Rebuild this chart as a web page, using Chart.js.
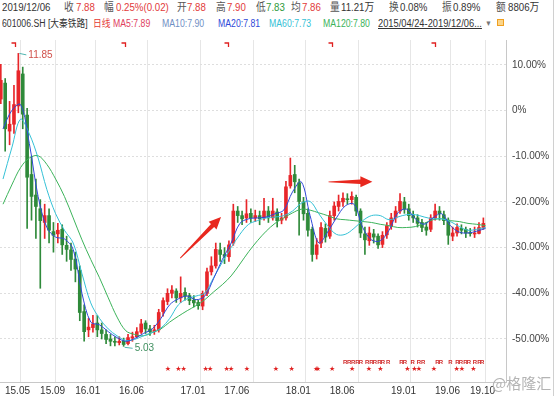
<!DOCTYPE html>
<html>
<head>
<meta charset="utf-8">
<script src="https://cdn.jsdelivr.net/npm/chart.js@4.4.0/dist/chart.umd.min.js"></script>
<style>
  body { margin: 0; background: #fff; }
  #wrap { position: relative; width: 554px; height: 396px; overflow: hidden;
          font-family: "Liberation Sans", Arial, "Noto Sans CJK SC", sans-serif; }
  .h { position: absolute; white-space: nowrap; line-height: 1; transform-origin: 0 0; }
  .r1 { top: 2px; font-size: 11px; transform: scaleX(0.88); }
  .r2 { top: 19px; font-size: 10px; transform: scaleX(0.87); }
  .g { color: #555; }
  .k { color: #333; }
  .red { color: #e23a3a; }
  .grn { color: #2f9a3c; }
  #box { position: absolute; left: 0; top: 28px; width: 554px; height: 368px; }
  #rb { position: absolute; left: 553px; top: 0; width: 1px; height: 396px; background: #d0d0d0; }
  #wm { position: absolute; left: 492px; top: 375px; font-size: 15px; color: #b4b4b4;
        font-family: "Noto Sans CJK SC", sans-serif; line-height: 1; }
  #ico { position: absolute; left: 497px; top: 19px; width: 5px; height: 5px;
         border: 1px solid #f0a020; background: #fbd58a; }
</style>
</head>
<body>
<div id="wrap">
  <span class="h r1 k" style="left:2px">2019/12/06</span>
  <span class="h r1 g" style="left:64px">收</span><span class="h r1 red" style="left:76px">7.88</span>
  <span class="h r1 g" style="left:104px">幅</span><span class="h r1 red" style="left:116px">0.25%(0.02)</span>
  <span class="h r1 g" style="left:177px">开</span><span class="h r1 red" style="left:187px">7.88</span>
  <span class="h r1 g" style="left:216px">高</span><span class="h r1 red" style="left:227px">7.90</span>
  <span class="h r1 g" style="left:256px">低</span><span class="h r1 grn" style="left:266px">7.83</span>
  <span class="h r1 g" style="left:291px">均</span><span class="h r1 red" style="left:302px">7.86</span>
  <span class="h r1 g" style="left:330px">量</span><span class="h r1 k" style="left:341px">11.21万</span>
  <span class="h r1 g" style="left:389px">换</span><span class="h r1 k" style="left:400px">0.08%</span>
  <span class="h r1 g" style="left:442px">振</span><span class="h r1 k" style="left:453px">0.89%</span>
  <span class="h r1 g" style="left:496px">额</span><span class="h r1 k" style="left:508px">8806万</span>

  <span class="h r2 k" style="left:2px">601006.SH [大秦铁路]</span>
  <span class="h r2" style="left:93px;color:#e53935">日线</span>
  <span class="h r2" style="left:113px;color:#e0405e">MA5:7.89</span>
  <span class="h r2" style="left:162px;color:#6f8fc4">MA10:7.90</span>
  <span class="h r2" style="left:218px;color:#2f49d8">MA20:7.81</span>
  <span class="h r2" style="left:269px;color:#35c1d6">MA60:7.73</span>
  <span class="h r2" style="left:323px;color:#3cb35a">MA120:7.80</span>
  <span class="h r2 k" style="left:378px;text-decoration:underline;transform:scaleX(0.93)">2015/04/24-2019/12/06...</span>
  <span class="h r2" style="left:485px;color:#777;font-size:8px;top:20px">▼</span>
  <div id="ico"></div>

  <div id="box"><canvas id="c"></canvas></div>
  <div id="rb"></div>
  <div id="wm">@格隆汇</div>
</div>
<script>
// half-month candles, percent change vs. base price, first candle 2015/04/24
const candleStart = -0.25;
const candleStep = 0.5;

const openP = [
  2.5, 6.0, -4.5, -3.0, 1.0, 8.0, -1.0, -14.0, -18.5, -21.5,
  -24.5, -23.0, -26.5, -27.0, -26.0, -29.5, -30.5, -32.5, -35.0, -44.0,
  -48.0, -47.5, -46.5, -48.0, -49.0, -50.0, -50.5, -50.8, -50.5, -51.0,
  -49.8, -49.5, -48.5, -46.5, -47.8, -48.4, -48.0, -44.0, -41.8, -40.0,
  -39.5, -41.0, -39.8, -40.5, -41.5, -42.0, -42.8, -40.0, -35.3, -34.0,
  -30.5, -31.5, -32.0, -29.0, -22.0, -23.0, -23.5, -22.5, -23.5, -23.0,
  -23.5, -22.0, -23.5, -22.2, -24.0, -23.5, -16.5, -14.0, -15.8, -20.0,
  -22.5, -26.0, -31.5, -29.0, -25.8, -27.5, -23.0, -21.0, -20.0, -19.3,
  -19.5, -19.0, -22.0, -27.0, -28.5, -27.0, -27.5, -29.3, -27.2, -25.3,
  -23.5, -22.0, -20.0, -21.5, -23.0, -23.5, -24.5, -25.5, -26.0, -23.5,
  -22.0, -22.8, -24.0, -27.5, -26.8, -25.8, -26.0, -26.7, -26.8, -26.9,
  -25.6
];
const closeP = [
  6.6, -4.0, -3.0, 1.3, 8.7, -0.8, -14.6, -18.8, -21.0, -24.1,
  -23.0, -26.2, -27.3, -26.2, -29.4, -30.4, -32.6, -34.7, -44.2, -48.4,
  -47.4, -46.7, -48.0, -48.8, -50.1, -50.5, -50.7, -50.5, -51.2, -49.7,
  -49.5, -48.4, -46.7, -47.8, -48.4, -48.0, -44.2, -41.6, -40.0, -39.3,
  -41.0, -40.0, -40.6, -41.6, -42.1, -42.7, -40.0, -35.3, -34.0, -30.4,
  -31.5, -31.9, -29.4, -22.0, -23.0, -23.7, -22.6, -23.5, -23.0, -23.7,
  -22.0, -23.5, -22.0, -24.1, -23.5, -16.7, -14.2, -15.6, -19.9, -22.6,
  -26.2, -31.5, -29.4, -25.6, -27.7, -23.0, -20.9, -19.9, -19.2, -19.5,
  -18.8, -22.0, -26.8, -28.3, -26.8, -27.7, -29.4, -27.3, -25.2, -23.5,
  -22.0, -19.9, -21.6, -23.0, -23.5, -24.7, -25.6, -26.2, -23.5, -22.0,
  -22.6, -24.1, -27.3, -26.8, -25.6, -26.2, -26.8, -26.8, -26.8, -25.6,
  -24.7
];
const highP = [
  10.1, 7.0, 2.0, 5.5, 12.5, 9.5, 0.5, -10.0, -15.0, -19.5,
  -20.5, -21.5, -24.5, -24.7, -25.0, -27.5, -29.0, -31.0, -34.0, -42.5,
  -45.5, -44.8, -44.8, -46.5, -48.0, -49.0, -49.5, -49.5, -49.8, -49.0,
  -48.5, -47.5, -45.7, -46.0, -47.0, -47.0, -43.5, -41.0, -39.0, -38.3,
  -39.0, -36.4, -38.8, -40.0, -40.5, -41.5, -39.5, -34.5, -32.0, -29.0,
  -29.0, -30.0, -28.5, -20.5, -21.0, -22.0, -19.5, -21.5, -21.8, -22.0,
  -19.2, -21.0, -19.2, -21.5, -22.5, -15.5, -10.4, -12.0, -15.0, -19.0,
  -21.5, -25.5, -28.0, -24.5, -24.8, -22.0, -20.0, -18.5, -18.0, -18.2,
  -17.8, -18.5, -21.5, -25.5, -25.5, -26.0, -27.0, -26.5, -24.5, -22.5,
  -21.0, -18.2, -19.0, -20.5, -22.0, -22.8, -23.8, -24.5, -22.8, -20.5,
  -21.0, -22.0, -23.5, -25.5, -24.8, -25.0, -25.5, -25.8, -25.5, -24.5,
  -23.5
];
const lowP = [
  1.5, -8.9, -7.5, -5.0, -0.5, -4.0, -25.8, -24.0, -28.0, -38.9,
  -28.0, -29.0, -31.0, -29.0, -31.5, -33.0, -35.0, -37.5, -46.0, -50.5,
  -49.5, -48.5, -49.5, -50.0, -51.0, -51.5, -51.5, -51.3, -51.6, -51.3,
  -50.5, -49.8, -48.8, -48.8, -49.2, -49.0, -48.5, -45.0, -42.5, -41.0,
  -42.0, -42.0, -41.5, -42.5, -43.0, -43.5, -43.6, -40.5, -36.0, -34.5,
  -33.0, -33.5, -33.0, -29.5, -24.5, -25.0, -24.5, -24.5, -24.3, -25.0,
  -24.0, -24.5, -24.0, -25.5, -24.8, -24.0, -17.0, -18.0, -27.3, -24.0,
  -27.5, -33.0, -32.5, -30.0, -28.8, -28.0, -24.0, -22.0, -21.0, -20.5,
  -20.5, -23.0, -27.8, -31.5, -29.5, -29.0, -30.2, -30.0, -28.0, -26.0,
  -24.5, -22.5, -22.5, -24.0, -24.5, -25.5, -26.5, -27.3, -26.5, -24.0,
  -24.0, -25.0, -29.3, -28.5, -27.5, -27.0, -27.8, -27.5, -27.8, -27.0,
  -26.0
];

// moving averages, one value per month starting 2015.05
const ma20 = [
  -4.0, 0.0, 1.3, -7.2, -18.8, -25.6, -27.7, -28.1, -30.4, -40.0,
  -46.3, -46.9, -48.4, -49.7, -50.5, -49.9, -48.8, -47.8, -45.5, -42.5,
  -41.2, -40.6, -41.4, -40.6, -36.8, -32.6, -29.0, -24.7, -23.7, -23.5,
  -23.3, -22.6, -21.8, -17.8, -15.6, -23.0, -29.0, -26.6, -23.5, -20.9,
  -20.5, -25.6, -28.3, -28.5, -26.2, -22.4, -21.6, -23.7, -24.9, -23.5,
  -22.6, -25.2, -26.6, -26.8, -26.4, -25.8
];
const ma60 = [
  -15.0, -8.2, -1.9, -5.1, -10.4, -17.3, -22.6, -26.2, -29.0, -35.7,
  -42.1, -45.5, -47.8, -49.3, -50.3, -50.1, -49.3, -48.6, -47.6, -45.5,
  -42.5, -41.2, -40.6, -39.9, -36.6, -33.2, -30.0, -27.1, -24.9, -24.1,
  -23.5, -23.3, -23.0, -22.0, -20.3, -19.9, -22.6, -25.2, -27.1, -27.1,
  -25.8, -24.1, -23.0, -23.0, -23.9, -23.3, -22.8, -22.8, -23.3, -23.7,
  -23.7, -24.3, -25.4, -26.2, -26.0, -25.6
];
const ma120 = [
  -20.5, -16.3, -12.5, -10.4, -9.9, -11.8, -15.0, -18.8, -23.5, -28.3,
  -32.6, -36.6, -41.0, -45.2, -48.2, -49.0, -49.3, -48.6, -47.8, -46.3,
  -45.0, -43.8, -42.7, -41.4, -39.7, -38.1, -36.2, -33.6, -30.9, -28.5,
  -26.4, -24.7, -23.5, -22.4, -21.6, -21.8, -22.4, -23.0, -23.7, -23.9,
  -24.1, -24.3, -24.5, -24.9, -25.2, -25.6, -25.6, -25.4, -24.7, -23.9,
  -23.7, -24.1, -24.3, -24.7, -24.9, -25.2
];

const xTickMonths = [0, 4, 8, 13, 20, 25, 32, 37, 44, 49, 53];
const xTickLabels = ['15.05', '15.09', '16.01', '16.06', '17.01', '17.06', '18.01', '18.06', '19.01', '19.06', '19.10'];
const yTickValues = [10, 0, -10, -20, -30, -40, -50];
const yTickLabels = ['10.00%', '0%', '-10.00%', '-20.00%', '-30.00%', '-40.00%', '-50.00%'];

const highLabel = '11.85';
const lowLabel = '5.03';

// event markers along the time axis (months since 2015.05)
const divMonths = [1.4, 13.9, 25.6, 37.5, 49.2];
const starMonths = [18.8, 20.0, 20.6, 23.1, 23.6, 25.5, 26.0, 27.8, 31.1, 32.9, 35.7, 35.9,
  37.5, 39.8, 41.7, 43.0, 46.1, 46.9, 47.4, 49.1, 51.7, 52.3, 53.6];
const rMonths = [39.0, 39.45, 39.9, 40.4, 40.8, 41.5, 42.0, 42.4, 42.9, 43.3, 43.9, 45.4, 45.8,
  46.7, 47.4, 47.9, 49.5, 49.9, 51.0, 51.8, 52.2, 52.7, 53.1, 53.8, 54.3, 54.6];

// drawn arrows: [fromMonth, fromPct, toMonth, toPct]
const arrows = [[20.2, -32.3, 24.85, -23.3], [37.1, -15.6, 42.1, -15.6]];

const UP = '#e8262a', DOWN = '#2f8a3a';
const candleColors = openP.map((o, i) => closeP[i] >= o ? UP : DOWN);
const cx = i => candleStart + i * candleStep;

const deco = {
  id: 'deco',
  afterDatasetsDraw(chart) {
    const { ctx, chartArea: a, scales: { x, y } } = chart;
    ctx.save();

    // dividend ticks at top
    ctx.strokeStyle = '#e02020';
    ctx.lineWidth = 1.3;
    divMonths.forEach(m => {
      const px = Math.round(x.getPixelForValue(m)) + 0.5;
      ctx.beginPath();
      ctx.moveTo(px - 4, a.top + 3);
      ctx.lineTo(px, a.top + 3);
      ctx.lineTo(px, a.top + 7);
      ctx.stroke();
    });

    // stars and R markers
    ctx.fillStyle = '#e02020';
    ctx.textAlign = 'center';
    ctx.textBaseline = 'middle';
    ctx.font = '7px "DejaVu Sans"';
    starMonths.forEach(m => ctx.fillText('★', x.getPixelForValue(m), a.bottom - 13));
    ctx.fillStyle = '#d02828';
    ctx.font = 'bold 6px "Liberation Sans"';
    rMonths.forEach(m => ctx.fillText('R', x.getPixelForValue(m), a.bottom - 20));

    // arrows
    ctx.fillStyle = '#e8281e';
    arrows.forEach(([m1, p1, m2, p2]) => {
      const x1 = x.getPixelForValue(m1), y1 = y.getPixelForValue(p1);
      const x2 = x.getPixelForValue(m2), y2 = y.getPixelForValue(p2);
      const len = Math.hypot(x2 - x1, y2 - y1);
      const ux = (x2 - x1) / len, uy = (y2 - y1) / len;
      const nx = -uy, ny = ux;
      const hl = 12;
      const bx = x2 - ux * hl, by = y2 - uy * hl;
      ctx.beginPath();
      ctx.moveTo(x1 + nx * 0.4, y1 + ny * 0.4);
      ctx.lineTo(bx + nx * 2.2, by + ny * 2.2);
      ctx.lineTo(bx + nx * 5.5, by + ny * 5.5);
      ctx.lineTo(x2, y2);
      ctx.lineTo(bx - nx * 5.5, by - ny * 5.5);
      ctx.lineTo(bx - nx * 2.2, by - ny * 2.2);
      ctx.lineTo(x1 - nx * 0.4, y1 - ny * 0.4);
      ctx.closePath();
      ctx.fill();
    });

    // high / low labels
    const hi = highP.indexOf(Math.max(...highP));
    const lo = lowP.indexOf(Math.min(...lowP));
    const hx = x.getPixelForValue(cx(hi)), hy = y.getPixelForValue(highP[hi]);
    const lx = x.getPixelForValue(cx(lo)), ly = y.getPixelForValue(lowP[lo]);
    ctx.strokeStyle = '#4fb5b0';
    ctx.lineWidth = 1;
    ctx.beginPath();
    ctx.moveTo(hx + 1, hy); ctx.lineTo(hx + 8, hy + 1.5);
    ctx.moveTo(lx + 1, ly + 1); ctx.lineTo(lx + 9, ly + 2);
    ctx.stroke();
    ctx.textAlign = 'left';
    ctx.font = '10px "Liberation Sans"';
    ctx.fillStyle = '#d0504a';
    ctx.fillText(highLabel, hx + 10, hy + 1.5);
    ctx.fillStyle = '#3f8f5f';
    ctx.fillText(lowLabel, lx + 11, ly + 2);

    ctx.restore();
  }
};

new Chart(document.getElementById('c'), {
  type: 'bar',
  data: {
    datasets: [
      {
        type: 'line', label: 'MA20',
        data: ma20.map((v, m) => ({ x: m, y: v })),
        borderColor: '#2f49d8', borderWidth: 1, pointRadius: 0, tension: 0.35, order: 0
      },
      {
        type: 'line', label: 'MA60',
        data: ma60.map((v, m) => ({ x: m, y: v })),
        borderColor: '#35c1d6', borderWidth: 1, pointRadius: 0, tension: 0.35, order: 0
      },
      {
        type: 'line', label: 'MA120',
        data: ma120.map((v, m) => ({ x: m, y: v })),
        borderColor: '#3cb35a', borderWidth: 1, pointRadius: 0, tension: 0.35, order: 0
      },
      {
        label: 'wick',
        data: lowP.map((l, i) => ({ x: cx(i), y: [l, highP[i]] })),
        backgroundColor: candleColors, barThickness: 1, grouped: false, order: 3
      },
      {
        label: 'body',
        data: openP.map((o, i) => ({ x: cx(i), y: [o, closeP[i]] })),
        backgroundColor: candleColors, barThickness: 3, minBarLength: 1, grouped: false, order: 2
      }
    ]
  },
  options: {
    responsive: true,
    maintainAspectRatio: false,
    animation: false,
    layout: { padding: 0 },
    plugins: { legend: { display: false }, tooltip: { enabled: false } },
    scales: {
      x: {
        type: 'linear',
        offset: false,
        min: -0.342,
        max: 57.33,
        afterFit: s => { s.height = 14; },
        afterBuildTicks: s => { s.ticks = xTickMonths.map(v => ({ value: v })); },
        grid: { color: '#e6e6e6', drawTicks: false },
        border: { color: '#c8c8c8' },
        ticks: {
          align: 'start', labelOffset: 2, padding: 3, maxRotation: 0, autoSkip: false,
          color: '#333', font: { size: 10, family: '"Liberation Sans", Arial' },
          callback: (v, i) => xTickLabels[i]
        }
      },
      y: {
        position: 'right',
        min: -59.41,
        max: 15.43,
        afterFit: s => { s.width = 48; },
        afterBuildTicks: s => { s.ticks = yTickValues.map(v => ({ value: v })); },
        grid: { color: '#dedede', drawTicks: false },
        border: { color: '#c8c8c8', dash: [2, 2] },
        ticks: {
          padding: 6, color: '#444', font: { size: 10, family: '"Liberation Sans", Arial' },
          callback: (v, i) => yTickLabels[i]
        }
      }
    }
  },
  plugins: [deco]
});
</script>
</body>
</html>
